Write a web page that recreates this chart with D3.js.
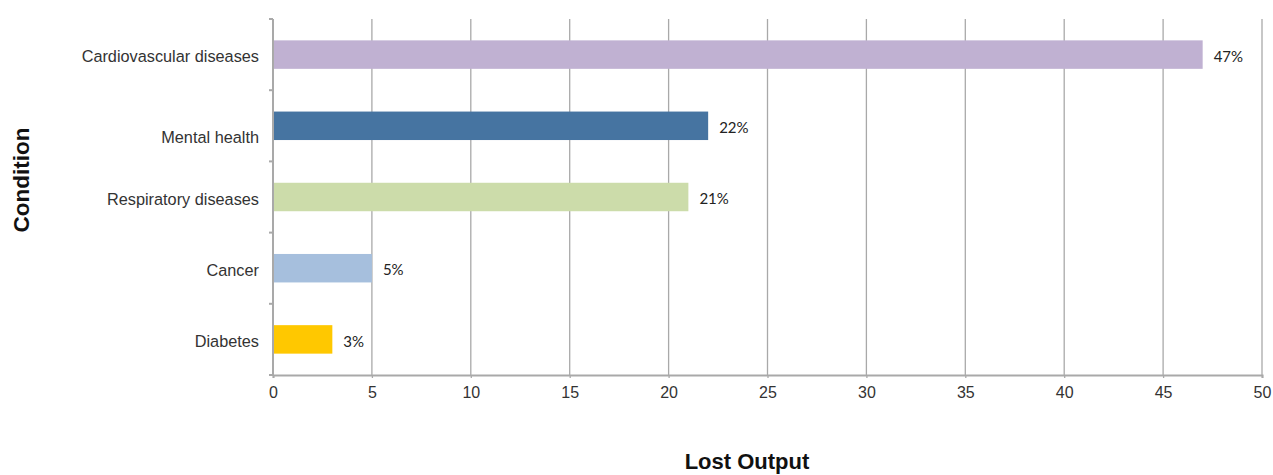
<!DOCTYPE html>
<html>
<head>
<meta charset="utf-8">
<script src="https://cdn.jsdelivr.net/npm/d3@7"></script>
<style>
  body { margin: 0; background: #fff; }
  svg { display: block; }
</style>
</head>
<body>
<div id="chart"></div>
<script>
////////////////////////////////////////////////////////////////////////////////////
// Data
var conditions = ["Cardiovascular diseases", "Mental health", "Respiratory diseases", "Cancer", "Diabetes"];
var lostOutput = [47, 22, 21, 5, 3];
var barColors = ["#c0b1d2", "#4674a1", "#ccdcaa", "#a6bfdd", "#ffc800"];
var xTicks = [0, 5, 10, 15, 20, 25, 30, 35, 40, 45, 50];

var width = 1273, height = 475;
var margin = {top: 19, right: 11, bottom: 100, left: 273};

var svg = d3.select("#chart").append("svg")
            .attr("width", width)
            .attr("height", height);

var xScale = d3.scaleLinear()
               .domain([0, 50])
               .range([margin.left, width - margin.right]);

var yScale = d3.scaleBand()
               .domain(conditions)
               .range([margin.top, height - margin.bottom])
               .paddingInner(0.6)
               .paddingOuter(0.3);

var plotBottom = height - margin.bottom;
var gridColor = "#a9a9a9";
var labelFont = "'Liberation Sans', Arial, sans-serif";

////////////////////////////////////////////////////////////////////////////////////
// Gridlines
svg.append("g")
   .selectAll("line")
   .data(xTicks.slice(1))
   .enter()
   .append("line")
   .attr("x1", function(d) { return xScale(d); })
   .attr("x2", function(d) { return xScale(d); })
   .attr("y1", margin.top)
   .attr("y2", plotBottom)
   .style("stroke", gridColor)
   .style("stroke-width", 1.3);

////////////////////////////////////////////////////////////////////////////////////
// Bars
svg.append("g")
   .selectAll("rect")
   .data(conditions)
   .enter()
   .append("rect")
   .attr("x", xScale(0))
   .attr("y", function(d) { return yScale(d); })
   .attr("width", function(d, i) { return xScale(lostOutput[i]) - xScale(0); })
   .attr("height", yScale.bandwidth())
   .style("fill", function(d, i) { return barColors[i]; });

// value labels
svg.append("g")
   .selectAll("text")
   .data(conditions)
   .enter()
   .append("text")
   .attr("x", function(d, i) { return xScale(lostOutput[i]) + 11; })
   .attr("y", function(d) { return yScale(d) + yScale.bandwidth() / 2 + 2; })
   .attr("dy", "0.35em")
   .style("font-family", "Lato, 'Open Sans', sans-serif")
   .style("font-size", "15px")
   .style("fill", "#222")
   .text(function(d, i) { return lostOutput[i] + "%"; });

////////////////////////////////////////////////////////////////////////////////////
// Axes
var xAxis = d3.axisBottom(xScale)
              .tickValues(xTicks)
              .tickSize(3)
              .tickPadding(9);

var xAxisG = svg.append("g")
                .attr("transform", "translate(0," + plotBottom + ")")
                .call(xAxis);

// band boundaries for the left ticks
var bandEdges = conditions.map(function(d) {
  return yScale(d) - yScale.step() * yScale.paddingInner() / 2;
});
bandEdges.push(plotBottom);

var yAxisG = svg.append("g");
yAxisG.append("line")
      .attr("x1", xScale(0)).attr("x2", xScale(0))
      .attr("y1", margin.top).attr("y2", plotBottom);
yAxisG.selectAll(".ytick")
      .data(bandEdges)
      .enter()
      .append("line")
      .attr("class", "ytick")
      .attr("x1", xScale(0) - 4).attr("x2", xScale(0))
      .attr("y1", function(d) { return d; })
      .attr("y2", function(d) { return d; });
yAxisG.selectAll("line")
      .style("stroke", gridColor)
      .style("stroke-width", 2);

// category labels (Mental health sits a bit lower in the original)
yAxisG.selectAll(".ylabel")
      .data(conditions)
      .enter()
      .append("text")
      .attr("class", "ylabel")
      .attr("x", xScale(0) - 14)
      .attr("y", function(d, i) {
        var shift = (i == 1) ? 11 : 2;
        return yScale(d) + yScale.bandwidth() / 2 + shift;
      })
      .attr("dy", "0.35em")
      .attr("text-anchor", "end")
      .style("font-family", labelFont)
      .style("font-size", "16.3px")
      .style("fill", "#333")
      .text(function(d) { return d; });

xAxisG.select(".domain").style("stroke", gridColor).style("stroke-width", 2);
xAxisG.selectAll(".tick line").style("stroke", gridColor).style("stroke-width", 1.3);
xAxisG.selectAll(".tick text")
      .style("font-family", labelFont)
      .style("font-size", "16px")
      .style("fill", "#333");

////////////////////////////////////////////////////////////////////////////////////
// Axis titles
svg.append("text")
   .attr("x", 747)
   .attr("y", 469)
   .attr("text-anchor", "middle")
   .style("font-family", labelFont)
   .style("font-size", "22px")
   .style("font-weight", "bold")
   .style("fill", "#111")
   .text("Lost Output");

svg.append("text")
   .attr("transform", "translate(29,180) rotate(-90)")
   .attr("text-anchor", "middle")
   .style("font-family", labelFont)
   .style("font-size", "22.5px")
   .style("font-weight", "bold")
   .style("fill", "#111")
   .text("Condition");
</script>
</body>
</html>
